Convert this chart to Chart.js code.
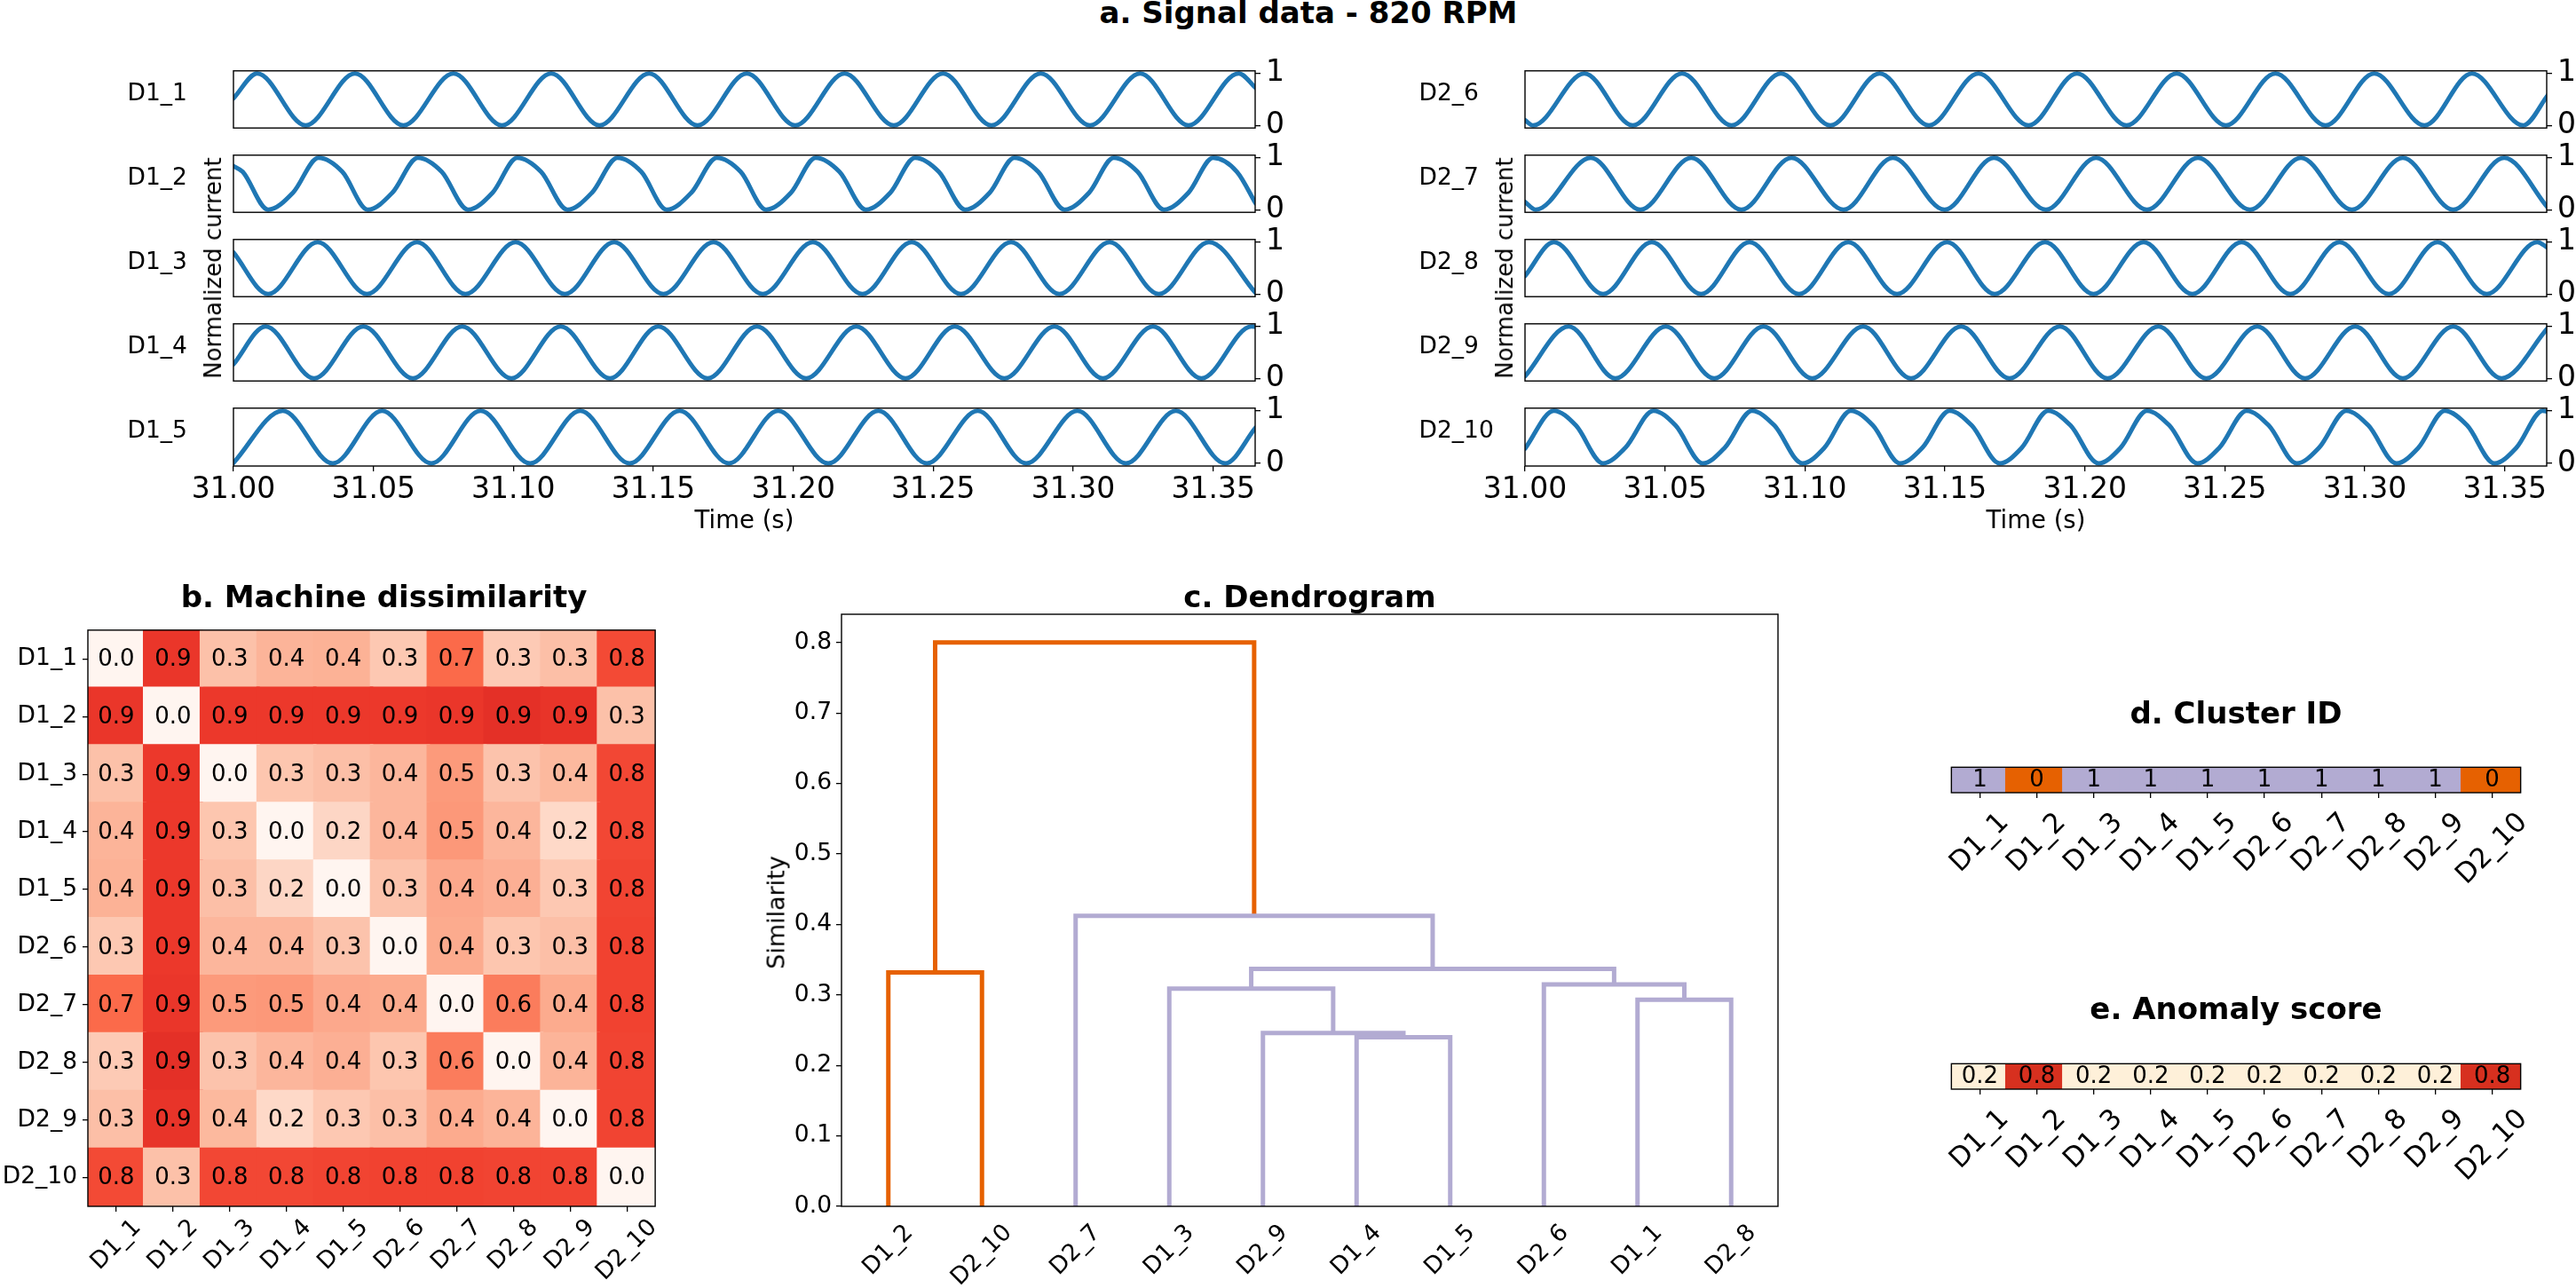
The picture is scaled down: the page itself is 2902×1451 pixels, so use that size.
<!DOCTYPE html>
<html>
<head>
<meta charset="utf-8">
<script src="https://cdn.jsdelivr.net/npm/chart.js@4.4.1/dist/chart.umd.min.js"></script>
<style>
  html, body { margin: 0; padding: 0; background: #fff; }
  body { width: 2902px; height: 1451px; position: relative; overflow: hidden; font-family: "DejaVu Sans", sans-serif; }
  canvas { position: absolute; }
  .txt { position: absolute; white-space: nowrap; color: #000; line-height: 1; }
</style>
</head>
<body>
<script>
// ---- data ----
const machines = ['D1_1','D1_2','D1_3','D1_4','D1_5','D2_6','D2_7','D2_8','D2_9','D2_10'];
const timeTicks = [31.00, 31.05, 31.10, 31.15, 31.20, 31.25, 31.30, 31.35];
const levelTicks = [0, 1];
const simTicks = [0, 0.1, 0.2, 0.3, 0.4, 0.5, 0.6, 0.7, 0.8];

// signal extrema / shoulders [time, normalized current]
const sigD1_1 = [[31.0000,0.52],[31.0085,1],[31.0258,0],[31.0434,1],[31.0607,0],[31.0786,1],[31.0959,0],[31.1135,1],[31.1308,0],[31.1485,1],[31.1658,0],[31.1834,1],[31.2007,0],[31.2183,1],[31.2359,0],[31.2535,1],[31.2708,0],[31.2884,1],[31.3060,0],[31.3239,1],[31.3412,0],[31.3591,1],[31.3652,0.72]];
const sigD1_2 = [[31.0000,0.84],[31.0033,0.73],[31.0124,0],[31.0213,0.33],[31.0304,1],[31.0389,0.73],[31.0480,0],[31.0568,0.33],[31.0659,1],[31.0744,0.73],[31.0838,0],[31.0926,0.33],[31.1014,1],[31.1099,0.73],[31.1193,0],[31.1281,0.33],[31.1372,1],[31.1457,0.73],[31.1548,0],[31.1636,0.33],[31.1727,1],[31.1812,0.73],[31.1903,0],[31.1992,0.33],[31.2080,1],[31.2165,0.73],[31.2259,0],[31.2347,0.33],[31.2435,1],[31.2520,0.73],[31.2614,0],[31.2702,0.33],[31.2790,1],[31.2875,0.73],[31.2969,0],[31.3057,0.33],[31.3145,1],[31.3230,0.73],[31.3324,0],[31.3412,0.33],[31.3500,1],[31.3585,0.73],[31.3652,0.12]];
const sigD1_3 = [[31.0000,0.80],[31.0124,0],[31.0301,1],[31.0477,0],[31.0656,1],[31.0829,0],[31.1008,1],[31.1184,0],[31.1360,1],[31.1536,0],[31.1715,1],[31.1891,0],[31.2070,1],[31.2247,0],[31.2423,1],[31.2599,0],[31.2778,1],[31.2951,0],[31.3130,1],[31.3306,0],[31.3485,1],[31.3652,0.02]];
const sigD1_4 = [[31.0000,0.27],[31.0115,1],[31.0288,0],[31.0464,1],[31.0641,0],[31.0817,1],[31.0993,0],[31.1169,1],[31.1345,0],[31.1518,1],[31.1694,0],[31.1870,1],[31.2046,0],[31.2225,1],[31.2401,0],[31.2577,1],[31.2754,0],[31.2933,1],[31.3106,0],[31.3285,1],[31.3458,0],[31.3637,1],[31.3652,0.99]];
const sigD1_5 = [[31.0000,0.01],[31.0176,1],[31.0355,0],[31.0531,1],[31.0707,0],[31.0883,1],[31.1060,0],[31.1239,1],[31.1415,0],[31.1594,1],[31.1770,0],[31.1946,1],[31.2125,0],[31.2304,1],[31.2477,0],[31.2659,1],[31.2832,0],[31.3015,1],[31.3188,0],[31.3367,1],[31.3543,0],[31.3652,0.68]];
const sigD2_6 = [[31.0000,0.10],[31.0029,0],[31.0212,1],[31.0385,0],[31.0561,1],[31.0738,0],[31.0914,1],[31.1091,0],[31.1267,1],[31.1443,0],[31.1620,1],[31.1799,0],[31.1972,1],[31.2149,0],[31.2328,1],[31.2504,0],[31.2681,1],[31.2860,0],[31.3034,1],[31.3213,0],[31.3383,1],[31.3566,0],[31.3654,0.58]];
const sigD2_7 = [[31.0000,0.15],[31.0038,0],[31.0235,1],[31.0412,0],[31.0594,1],[31.0773,0],[31.0952,1],[31.1138,0],[31.1314,1],[31.1499,0],[31.1675,1],[31.1861,0],[31.2040,1],[31.2222,0],[31.2404,1],[31.2590,0],[31.2772,1],[31.2954,0],[31.3136,1],[31.3316,0],[31.3498,1],[31.3654,0.04]];
const sigD2_8 = [[31.0000,0.35],[31.0103,1],[31.0279,0],[31.0453,1],[31.0629,0],[31.0802,1],[31.0979,0],[31.1155,1],[31.1329,0],[31.1508,1],[31.1678,0],[31.1858,1],[31.2031,0],[31.2210,1],[31.2384,0],[31.2560,1],[31.2734,0],[31.2910,1],[31.3086,0],[31.3260,1],[31.3436,0],[31.3616,1],[31.3654,0.89]];
const sigD2_9 = [[31.0000,0.04],[31.0156,1],[31.0323,0],[31.0503,1],[31.0676,0],[31.0852,1],[31.1026,0],[31.1208,1],[31.1379,0],[31.1558,1],[31.1731,0],[31.1911,1],[31.2081,0],[31.2263,1],[31.2434,0],[31.2616,1],[31.2787,0],[31.2966,1],[31.3136,0],[31.3316,1],[31.3489,0],[31.3654,0.97]];
const sigD2_10 = [[31.0000,0.28],[31.0103,1],[31.0182,0.72],[31.0279,0],[31.0359,0.3],[31.0459,1],[31.0538,0.72],[31.0635,0],[31.0714,0.3],[31.0811,1],[31.0891,0.72],[31.0991,0],[31.1070,0.3],[31.1164,1],[31.1243,0.72],[31.1340,0],[31.1420,0.3],[31.1517,1],[31.1596,0.72],[31.1696,0],[31.1775,0.3],[31.1869,1],[31.1949,0.72],[31.2049,0],[31.2128,0.3],[31.2222,1],[31.2302,0.72],[31.2402,0],[31.2481,0.3],[31.2578,1],[31.2657,0.72],[31.2757,0],[31.2837,0.3],[31.2934,1],[31.3013,0.72],[31.3113,0],[31.3192,0.3],[31.3286,1],[31.3366,0.72],[31.3463,0],[31.3542,0.3],[31.3636,1],[31.3654,0.98]];

// machine dissimilarity (rows/cols in machines order)
const dissim = [
  [0.00,0.90,0.32,0.38,0.39,0.29,0.70,0.28,0.33,0.82],
  [0.90,0.00,0.89,0.89,0.89,0.89,0.90,0.93,0.91,0.32],
  [0.32,0.89,0.00,0.30,0.33,0.37,0.49,0.31,0.36,0.83],
  [0.38,0.89,0.30,0.00,0.22,0.37,0.50,0.37,0.21,0.83],
  [0.39,0.89,0.33,0.22,0.00,0.31,0.43,0.40,0.29,0.84],
  [0.29,0.89,0.37,0.37,0.31,0.00,0.42,0.30,0.33,0.85],
  [0.70,0.90,0.49,0.50,0.43,0.42,0.00,0.62,0.42,0.85],
  [0.28,0.93,0.31,0.37,0.40,0.30,0.62,0.00,0.38,0.84],
  [0.33,0.91,0.36,0.21,0.29,0.33,0.42,0.38,0.00,0.84],
  [0.82,0.32,0.83,0.83,0.84,0.85,0.85,0.84,0.84,0.00]
];

// dendrogram (scipy-style link coordinates)
const leafOrder = ['D1_2','D2_10','D2_7','D1_3','D2_9','D1_4','D1_5','D2_6','D1_1','D2_8'];
const linkX = [
  [55,55,65,65],
  [45,45,60,60],
  [35,35,52.5,52.5],
  [85,85,95,95],
  [75,75,90,90],
  [43.75,43.75,82.5,82.5],
  [25,25,63.125,63.125],
  [5,5,15,15],
  [10,10,44.0625,44.0625]
];
const linkY = [
  [0,0.240,0.240,0],
  [0,0.246,0.246,0.240],
  [0,0.309,0.309,0.246],
  [0,0.293,0.293,0],
  [0,0.315,0.315,0.293],
  [0.309,0.337,0.337,0.315],
  [0,0.412,0.412,0.337],
  [0,0.332,0.332,0],
  [0.332,0.80,0.80,0.412]
];
const linkCluster = [1,1,1,1,1,1,1,0,0];

const clusterIds = [1,0,1,1,1,1,1,1,1,0];
const anomalyScores = [0.2,0.8,0.2,0.2,0.2,0.2,0.2,0.2,0.2,0.8];

// ---- styling helpers ----
Chart.defaults.font.family = '"DejaVu Sans", sans-serif';
Chart.defaults.color = '#000';

const clusterColors = ['#e66101', '#b2abd2'];
const redStops = ['#fff5f0','#fee0d2','#fcbba1','#fc9272','#fb6a4a','#ef3b2c','#cb181d','#a50f15','#67000d'];
function hexRgb(h){ return [1,3,5].map(i => parseInt(h.slice(i, i+2), 16)); }
function mix(a, b, f){
  const p = hexRgb(a), q = hexRgb(b);
  return 'rgb(' + p.map((v, i) => Math.round(v + (q[i]-v)*f)).join(',') + ')';
}
function reds(t){
  t = Math.min(Math.max(t, 0), 1) * 8;
  const i = Math.min(Math.floor(t), 7);
  return mix(redStops[i], redStops[i+1], t - i);
}
const anomalyColor = v => mix('#fef0d9', '#d7301f', (v - 0.2) / 0.6);

function addText(str, x, y, size, o){
  o = o || {};
  const d = document.createElement('div');
  d.className = 'txt';
  d.textContent = str;
  d.style.fontSize = size + 'px';
  if(o.bold) d.style.fontWeight = 'bold';
  d.style.left = x + 'px';
  if(o.rotate){
    d.style.top = y + 'px';
    d.style.transform = 'translate(-50%,-50%) rotate(-90deg)';
  } else {
    d.style.top = (y - 0.846*size) + 'px';   // y = baseline
    if(o.align !== 'left') d.style.transform = 'translateX(-50%)';
  }
  document.body.appendChild(d);
}

function makeCanvas(a, m){
  const c = document.createElement('canvas');
  const w = a.w + m.l + m.r, h = a.h + m.t + m.b;
  c.width = w; c.height = h;
  c.style.width = w + 'px'; c.style.height = h + 'px';
  c.style.left = (a.x - m.l) + 'px'; c.style.top = (a.y - m.t) + 'px';
  document.body.appendChild(c);
  return c;
}

// pad = layout padding (margin minus the space taken by axes that show labels)
function baseOptions(pad){
  return {
    responsive: false, animation: false, devicePixelRatio: 1, events: [],
    layout: { padding: pad },
    plugins: { legend: { display: false }, tooltip: { enabled: false } }
  };
}
// fixed axis thickness so the plot area lands where we want it
const fitTo = n => s => { if(s.isHorizontal()) s.height = n; else s.width = n; };
const tickGrid = () => ({ drawOnChartArea: false, tickLength: 6, tickColor: '#000', tickWidth: 1.3, lineWidth: 1.3 });

// box around the plot area
const frame = {
  id: 'frame',
  afterDraw(chart){
    const {ctx, chartArea: a} = chart;
    ctx.save();
    ctx.strokeStyle = '#000'; ctx.lineWidth = 1.4;
    ctx.strokeRect(a.left, a.top, a.right - a.left, a.bottom - a.top);
    ctx.restore();
  }
};

// values written in the middle of each cell
function cellText(fmt, size){
  return {
    id: 'cellText',
    afterDatasetsDraw(chart){
      const ctx = chart.ctx, ds = chart.data.datasets[0];
      ctx.save();
      ctx.font = size + 'px "DejaVu Sans"';
      ctx.fillStyle = '#000'; ctx.textAlign = 'center'; ctx.textBaseline = 'middle';
      chart.getDatasetMeta(0).data.forEach((pt, i) => ctx.fillText(fmt(ds.data[i].v), pt.x, pt.y + 1));
      ctx.restore();
    }
  };
}

// 45 degree x labels, bbox centred on the tick like matplotlib
function slanted(labels, valueOf, size, gap){
  return {
    id: 'slanted',
    afterDraw(chart){
      const ctx = chart.ctx, xs = chart.scales.x, top = chart.chartArea.bottom + gap;
      ctx.save();
      ctx.font = size + 'px "DejaVu Sans"';
      ctx.fillStyle = '#000'; ctx.textAlign = 'center'; ctx.textBaseline = 'middle';
      labels.forEach((lab, i) => {
        const half = (ctx.measureText(lab).width + 0.82*size) / (2*Math.SQRT2);
        ctx.save();
        ctx.translate(xs.getPixelForValue(valueOf(i)), top + half);
        ctx.rotate(-Math.PI/4);
        ctx.fillText(lab, 0, 0);
        ctx.restore();
      });
      ctx.restore();
    }
  };
}

function catAxis(labels, position, showLabels, size){
  return {
    type: 'category', labels, position, offset: true, afterFit: fitTo(size),
    grid: Object.assign(tickGrid(), { offset: false }),
    border: { display: false },
    ticks: { display: showLabels, font: { size: 26.5 }, padding: 6, autoSkip: false, maxRotation: 0 }
  };
}

// ---- a. signal panels ----
function signalChart(area, pts, showX){
  const m = { l: 60, t: 25, r: 60, b: showX ? 60 : 25 };
  const pad = { left: m.l, top: m.t, right: 0, bottom: showX ? 0 : m.b };
  new Chart(makeCanvas(area, m), {
    type: 'line',
    data: { datasets: [{
      data: pts.map(p => ({ x: p[0], y: p[1] })),
      borderColor: '#1f77b4', borderWidth: 5, pointRadius: 0,
      cubicInterpolationMode: 'monotone', borderJoinStyle: 'round', borderCapStyle: 'round'
    }]},
    options: Object.assign(baseOptions(pad), { scales: {
      x: { type: 'linear', min: 31.0, max: 31.365, display: showX, afterFit: fitTo(showX ? m.b : 0),
           afterBuildTicks: s => { s.ticks = timeTicks.map(v => ({ value: v })); },
           ticks: { font: { size: 33 }, padding: 2, maxRotation: 0, autoSkip: false, callback: v => v.toFixed(2) },
           grid: tickGrid(), border: { display: false } },
      y: { type: 'linear', position: 'right', min: -0.05, max: 1.05, afterFit: fitTo(m.r),
           afterBuildTicks: s => { s.ticks = levelTicks.map(v => ({ value: v })); },
           ticks: { font: { size: 33 }, padding: 6, autoSkip: false, callback: v => String(v) },
           grid: tickGrid(), border: { display: false } }
    }}),
    plugins: [frame]
  });
}

const panelTops = [79, 174, 269, 364, 459], panelH = 66, panelW = 1151;
const signalGroups = [
  { x: 263,  sigs: [['D1_1', sigD1_1], ['D1_2', sigD1_2], ['D1_3', sigD1_3], ['D1_4', sigD1_4], ['D1_5', sigD1_5]] },
  { x: 1718, sigs: [['D2_6', sigD2_6], ['D2_7', sigD2_7], ['D2_8', sigD2_8], ['D2_9', sigD2_9], ['D2_10', sigD2_10]] }
];
signalGroups.forEach(g => {
  g.sigs.forEach(([name, pts], k) => {
    signalChart({ x: g.x, y: panelTops[k], w: panelW, h: panelH }, pts, k === g.sigs.length - 1);
    addText(name, g.x - 119.5, panelTops[k] + panelH/2 + 1, 26.5, { align: 'left' });
  });
  addText('Normalized current', g.x - 23, 302, 26, { rotate: true });
  addText('Time (s)', g.x + panelW/2, 595, 27.5);
});
addText('a. Signal data - 820 RPM', 1474, 26, 34, { bold: true });

// ---- b. heatmap ----
const HEAT = { x: 99, y: 692, w: 667, h: 667 };
const heatCells = [];
machines.forEach((row, i) => machines.forEach((col, j) => heatCells.push({ x: col, y: row, v: dissim[i][j] })));
(function(){
  const m = { l: 99, t: 30, r: 20, b: 100 };
  new Chart(makeCanvas(HEAT, m), {
    type: 'scatter',
    data: { datasets: [{
      data: heatCells, pointStyle: 'rect', pointRadius: (HEAT.w/10 + 1)/Math.SQRT2, pointBorderWidth: 0,
      pointBackgroundColor: heatCells.map(c => reds(c.v / 1.4)), clip: 0
    }]},
    options: Object.assign(baseOptions({ left: 0, top: m.t, right: m.r, bottom: m.b }), { scales: {
      x: catAxis(machines, 'bottom', false, 0),
      y: catAxis(machines, 'left', true, m.l)
    }}),
    plugins: [frame, cellText(v => v.toFixed(1), 26), slanted(machines, i => i, 26.5, 12)]
  });
})();
addText('b. Machine dissimilarity', HEAT.x + HEAT.w/2, 684, 34, { bold: true });

// ---- c. dendrogram ----
const DEND = { x: 948, y: 692, w: 1055, h: 667 };
(function(){
  const m = { l: 80, t: 30, r: 20, b: 100 };
  new Chart(makeCanvas(DEND, m), {
    type: 'line',
    data: { datasets: linkX.map((xs, k) => ({
      data: xs.map((x, n) => ({ x, y: linkY[k][n] })),
      borderColor: clusterColors[linkCluster[k]], borderWidth: 5, pointRadius: 0, tension: 0,
      borderJoinStyle: 'miter', borderCapStyle: 'butt'
    }))},
    options: Object.assign(baseOptions({ left: 0, top: m.t, right: m.r, bottom: m.b }), { scales: {
      x: { type: 'linear', min: 0, max: 100, display: false },
      y: { type: 'linear', min: 0, max: 0.84, afterFit: fitTo(m.l),
           afterBuildTicks: s => { s.ticks = simTicks.map(v => ({ value: v })); },
           ticks: { font: { size: 26.5 }, padding: 5, callback: v => v.toFixed(1) },
           grid: tickGrid(), border: { display: false } }
    }}),
    plugins: [frame, slanted(leafOrder, i => 5 + 10*i, 26.5, 18)]
  });
})();
addText('c. Dendrogram', DEND.x + DEND.w/2, 684, 34, { bold: true });
addText('Similarity', 874, 1028, 27, { rotate: true });

// ---- d / e. strips ----
function stripChart(area, values, colorOf, fmt){
  const cells = machines.map((name, i) => ({ x: name, y: 'row', v: values[i] }));
  const m = { l: 20, t: 10, r: 20, b: 125 };
  new Chart(makeCanvas(area, m), {
    type: 'scatter',
    data: { datasets: [{
      data: cells, pointStyle: 'rect', pointRadius: (area.w/10 + 1)/Math.SQRT2, pointBorderWidth: 0,
      pointBackgroundColor: cells.map(c => colorOf(c.v)), clip: 0
    }]},
    options: Object.assign(baseOptions({ left: m.l, top: m.t, right: m.r, bottom: m.b }), { scales: {
      x: catAxis(machines, 'bottom', false, 0),
      y: { type: 'category', labels: ['row'], offset: true, display: false }
    }}),
    plugins: [frame, cellText(fmt, 26), slanted(machines, i => i, 31, 20)]
  });
}
const CLUS = { x: 2168, y: 824, w: 702, h: 69 };
const ANOM = { x: 2168, y: 1158, w: 702, h: 69 };
stripChart(CLUS, clusterIds, v => clusterColors[v], v => String(v));
stripChart(ANOM, anomalyScores, anomalyColor, v => v.toFixed(1));
addText('d. Cluster ID', CLUS.x + CLUS.w/2, 815, 34, { bold: true });
addText('e. Anomaly score', ANOM.x + ANOM.w/2, 1148, 34, { bold: true });
</script>
</body>
</html>
